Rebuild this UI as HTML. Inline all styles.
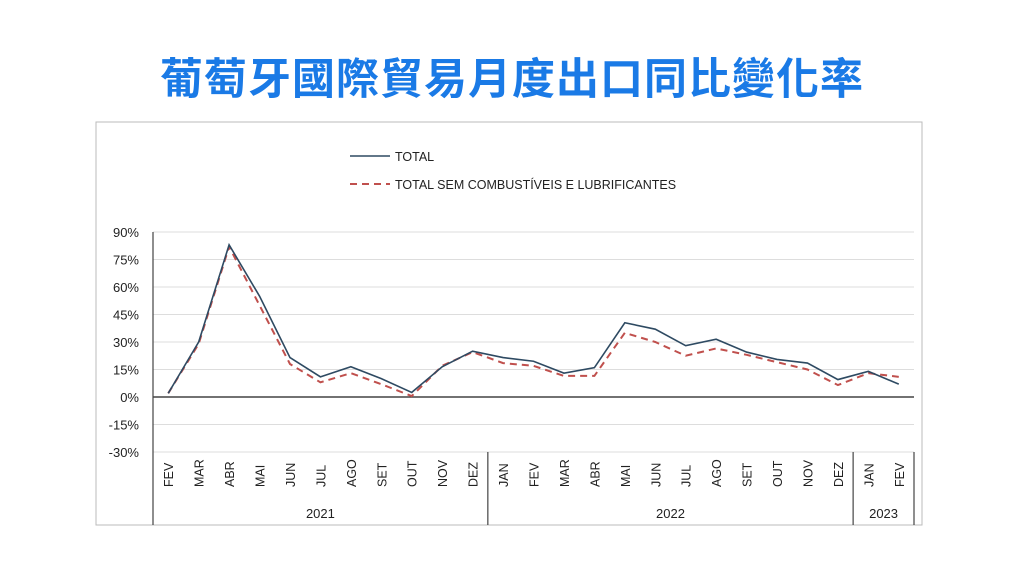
<!DOCTYPE html>
<html><head><meta charset="utf-8">
<style>
body{margin:0;width:1024px;height:564px;background:#fff;overflow:hidden;font-family:"Liberation Sans","Noto Sans CJK TC",sans-serif}
#title{position:absolute;left:0;top:52px;width:1024px;text-align:center;font-size:43px;font-weight:bold;color:#1a7ae6;font-family:"Liberation Sans","Noto Sans CJK TC",sans-serif;letter-spacing:1px;line-height:56px}
svg{position:absolute;left:0;top:0}
</style></head><body>
<div id="title">葡萄牙國際貿易月度出口同比變化率</div>
<svg id="chart" width="1024" height="564"></svg>
<script>
const months=["FEV","MAR","ABR","MAI","JUN","JUL","AGO","SET","OUT","NOV","DEZ","JAN","FEV","MAR","ABR","MAI","JUN","JUL","AGO","SET","OUT","NOV","DEZ","JAN","FEV"];
const years=["2021","2022","2023"];
const yearCounts=[11,12,2];
const totalValues=[2,30,83,55,21.5,11,16.5,10,2.5,16.5,25,21.5,19.5,13,16,40.5,37,28,31.5,24.5,20.5,18.5,9.5,14,7];
const exFuelValues=[2,29,82,50,18,8,13,7,0.5,17,24.5,18.5,17,11.5,11.5,35,30,22.5,26.5,23,19,15,6.5,13,11];
const yTicks=[90,75,60,45,30,15,0,-15,-30];
const NS="http://www.w3.org/2000/svg";
const svg=document.getElementById('chart');
const L=153,R=914,Y0=397,PX=165/90;
const step=(R-L)/months.length;
const x=i=>L+step*(i+0.5);
const y=v=>Y0-v*PX;
function mk(tag,attrs,parent){const e=document.createElementNS(NS,tag);for(const k in attrs)e.setAttribute(k,attrs[k]);(parent||svg).appendChild(e);return e;}
const frame=mk('rect',{x:96,y:122,width:826,height:403,fill:'none',stroke:'#bbb','stroke-width':1});


yTicks.forEach(t=>{
  const g=mk('line',{x1:L,x2:R,y1:y(t),y2:y(t),stroke:t===0?'#444':'#ddd','stroke-width':t===0?1.5:1});
  
  
  const tx=mk('text',{x:139,y:y(t)+5,'text-anchor':'end','font-size':13,fill:'#222'});
  tx.textContent=t+'%';
  
  
});
const ax=mk('line',{x1:L,x2:L,y1:232,y2:525,stroke:'#444','stroke-width':1.2});


months.forEach((m,i)=>{
  const t=mk('text',{transform:`translate(${x(i)+5},${487}) rotate(-90)`,'font-size':12.5,fill:'#222'});
  t.textContent=m;
  
  
});
let acc=0;
years.forEach((yr,k)=>{
  const x0=L+acc*step;acc+=yearCounts[k];const x1=L+acc*step;
  const l=mk('line',{x1:x1,x2:x1,y1:452,y2:525,stroke:'#444','stroke-width':1.2});
  
  
  const t=mk('text',{x:(x0+x1)/2,y:518,'text-anchor':'middle','font-size':13,fill:'#222'});
  t.textContent=yr;
  
  
});
const p2=mk('polyline',{points:exFuelValues.map((v,i)=>x(i)+','+y(v)).join(' '),fill:'none',stroke:'#c0504d','stroke-width':2,'stroke-dasharray':'7,5'});


const p1=mk('polyline',{points:totalValues.map((v,i)=>x(i)+','+y(v)).join(' '),fill:'none',stroke:'#2e4a62','stroke-width':1.6});


const lg1=mk('line',{x1:350,x2:390,y1:156,y2:156,stroke:'#2e4a62','stroke-width':1.6});


const lt1=mk('text',{x:395,y:161,'font-size':12.5,fill:'#222'});lt1.textContent='TOTAL';


const lg2=mk('line',{x1:350,x2:390,y1:184,y2:184,stroke:'#c0504d','stroke-width':2,'stroke-dasharray':'7,5'});


const lt2=mk('text',{x:395,y:189,'font-size':12.5,fill:'#222'});lt2.textContent='TOTAL SEM COMBUSTÍVEIS E LUBRIFICANTES';


</script>
</body></html>
